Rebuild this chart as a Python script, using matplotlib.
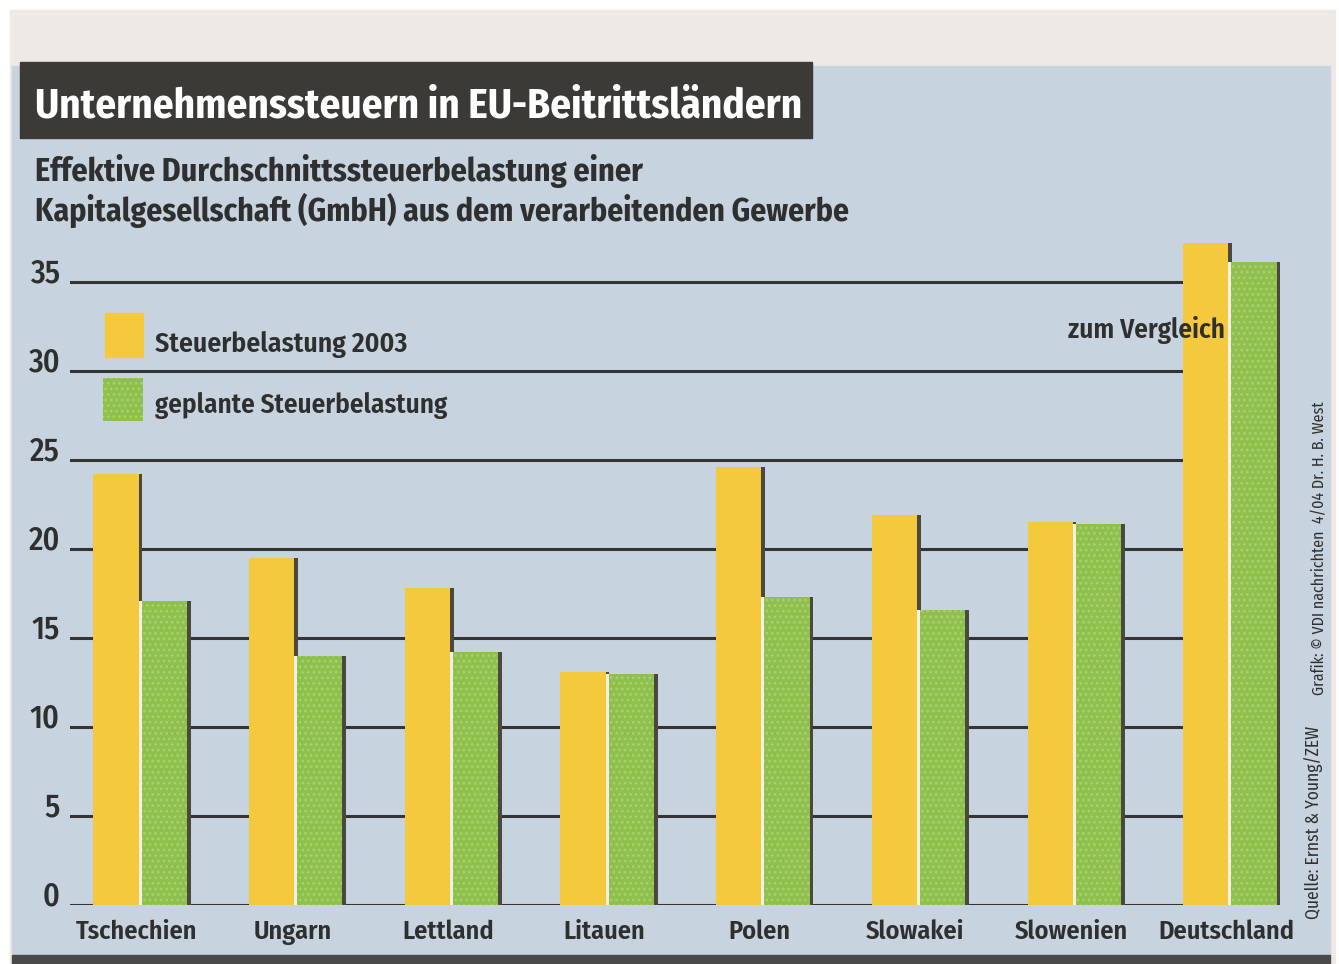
import numpy as np
import matplotlib
matplotlib.use("Agg")
import matplotlib.pyplot as plt
from matplotlib.patches import Rectangle, Arc
from matplotlib import font_manager

# ---------------- data ----------------
categories = ["Tschechien", "Ungarn", "Lettland", "Litauen", "Polen",
              "Slowakei", "Slowenien", "Deutschland"]
tax_2003 = [24.2, 19.5, 17.8, 13.1, 24.6, 21.9, 21.5, 37.2]
tax_planned = [17.1, 14.0, 14.2, 13.0, 17.3, 16.6, 21.4, 36.1]
yticks = [0, 5, 10, 15, 20, 25, 30, 35]
legend_labels = ["Steuerbelastung 2003", "geplante Steuerbelastung"]
title = "Unternehmenssteuern in EU-Beitrittsländern"
subtitle = ["Effektive Durchschnittssteuerbelastung einer",
            "Kapitalgesellschaft (GmbH) aus dem verarbeitenden Gewerbe"]
note = "zum Vergleich"
source = "Quelle: Ernst & Young/ZEW"
credit = "Grafik: © VDI nachrichten  4/04 Dr. H. B. West"

# ---------------- style ----------------
avail = {f.name for f in font_manager.fontManager.ttflist}
prefs = ["Fira Sans Condensed", "Asap Condensed", "Barlow Semi Condensed",
         "Roboto Condensed", "Archivo Narrow"]
FONT = next((f for f in prefs if f in avail), "DejaVu Sans")
plt.rcParams["font.family"] = [FONT, "DejaVu Sans"]
plt.rcParams["hatch.linewidth"] = 1.2

YEL = "#f5c93d"
GRN = "#8fbf4c"
BLUE = "#c7d3de"
DARK = "#3c3a36"
TXT = "#2f2f2f"

W, H = 1339, 964
fig = plt.figure(figsize=(W / 100, H / 100), dpi=100)
fig.patch.set_facecolor("white")

# background (pixel coordinates)
bg = fig.add_axes([0, 0, 1, 1], zorder=0)
bg.set_xlim(0, W)
bg.set_ylim(H, 0)
bg.set_axis_off()
bg.add_patch(Rectangle((0, 0), W, H, color="white", zorder=0))
bg.add_patch(Rectangle((10, 10), 1325, H - 10, color="#efe9e5", zorder=0.5))
bg.add_patch(Rectangle((12, 66), 1318, 891, color=BLUE, zorder=1))
bg.add_patch(Rectangle((20, 62), 792, 76, color=DARK, zorder=2))
bg.add_patch(Rectangle((12, 955), 1318, 9, color="#4a4a4a", zorder=2))
bg.add_patch(Arc((527, -8), 72, 64, theta1=190, theta2=350, lw=9,
                 color="#1a1a1a", zorder=2))

renderer = fig.canvas.get_renderer()
PX = bg.transData


def put(x, y, s, width=None, **kw):
    kw.setdefault("va", "baseline")
    kw.setdefault("color", TXT)
    kw.setdefault("fontweight", "semibold")
    t = fig.text(x, y, s, transform=PX, zorder=10, **kw)
    if width:
        bb = t.get_window_extent(renderer)
        t.set_fontsize(t.get_fontsize() * width / bb.width)
    return t


put(35, 117, title, 765, color="white", fontsize=30, fontweight="bold")
put(35, 181, subtitle[0], 607, fontsize=24, fontweight="bold")
put(35, 221, subtitle[1], 815, fontsize=24, fontweight="bold")

# legend
bg.add_patch(Rectangle((105, 313), 38, 44, color=YEL, zorder=4))
bg.add_patch(Rectangle((103, 378), 40, 43, facecolor=GRN, edgecolor="#a8d06c",
                       hatch="...", lw=0, zorder=4))
put(155, 352, legend_labels[0], 252, fontsize=20)
put(155, 413, legend_labels[1], 292, fontsize=20)
put(1225, 338, note, 157, ha="right", fontsize=20)

# vertical source texts
t1 = put(1314, 822, source, rotation=90, ha="center", va="center", fontsize=12,
         fontweight="normal")
bb = t1.get_window_extent(renderer)
t1.set_fontsize(t1.get_fontsize() * 193 / bb.height)
t2 = put(1320, 548, credit, rotation=90, ha="center", va="center", fontsize=12,
         fontweight="normal")
bb = t2.get_window_extent(renderer)
t2.set_fontsize(t2.get_fontsize() * 295 / bb.height)

# ---------------- main axes ----------------
y0_px, unit_px = 905, 17.8
ymax = 38
ax = fig.add_axes([70 / W, (H - y0_px) / H, 1220 / W, ymax * unit_px / H], zorder=1)
ax.patch.set_alpha(0)
ax.set_xlim(-0.45, 7.386)
ax.set_ylim(0, ymax)
ax.set_axis_off()

x = np.arange(len(categories))
bw = 0.29
ax.hlines(yticks, -0.48, 7.3, color="#343434", lw=2.2, zorder=1)
for v in yticks:
    ax.text(-0.515, v + 0.45, str(v), ha="right", va="center", fontsize=23,
            color=TXT, fontweight="medium", clip_on=False)

# shadows
ax.bar(x - 0.155 + 0.024, tax_2003, bw, color="#4b483f", lw=0, zorder=2)
ax.bar(x + 0.155 + 0.024, tax_planned, bw, color="#4b483f", lw=0, zorder=2)
# 2003 bars
ax.bar(x - 0.155, tax_2003, bw, color=YEL, lw=0, zorder=3)
# white gap + planned bars
ax.bar(x + 0.145, tax_planned, bw + 0.02, color="#f2f1e6", lw=0, zorder=4)
ax.bar(x + 0.155, tax_planned, bw, facecolor=GRN, edgecolor="#a8d06c",
       hatch="...", lw=0, zorder=5)

# category labels
cat_texts = []
for xi, c in zip(x, categories):
    t = ax.text(xi - 0.02, -1.9, c, ha="center", va="baseline", fontsize=22,
                color=TXT, fontweight="semibold", clip_on=False)
    cat_texts.append(t)
bbw = cat_texts[-1].get_window_extent(renderer).width
fs = 22 * 136 / bbw
for t in cat_texts:
    t.set_fontsize(fs)

fig.savefig("out.png", dpi=100)
